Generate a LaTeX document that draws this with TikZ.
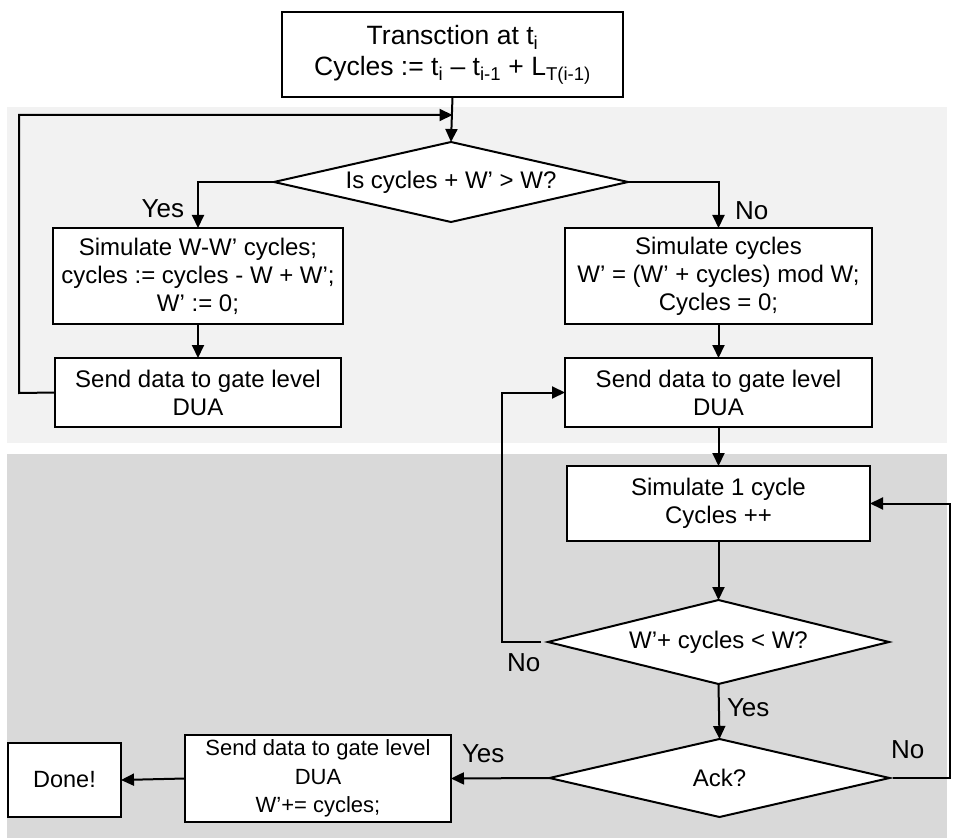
\documentclass[tikz,border=0pt]{standalone}
\usepackage{fontspec}
\setmainfont{Liberation Sans}
\usetikzlibrary{arrows.meta,shapes.geometric}
\definecolor{bglight}{HTML}{F2F2F2}
\definecolor{bgdark}{HTML}{D9D9D9}
\tikzset{
  x=1pt, y=-1pt,
  every node/.style={inner sep=0pt, outer sep=0pt},
  boxtext/.style={font=\fontsize{24}{28}\selectfont, align=center},
  procbox/.style={draw, line width=2pt, fill=white, boxtext},
  decision/.style={draw, line width=2pt, fill=white, diamond, shape aspect=4.4, boxtext},
  arr/.style={line width=2pt, -{Triangle[length=13pt,width=12pt]}},
  lbl/.style={font=\fontsize{26}{30}\selectfont}
}
\begin{document}
\begin{tikzpicture}
\useasboundingbox (0,0) rectangle (954,840);

% shaded phases
\fill[bglight] (7,107) rectangle (947,443);
\fill[bgdark] (7,454) rectangle (947,838);

% nodes
\node[procbox, font=\fontsize{26.5}{31}\selectfont, minimum width=341pt, minimum height=85pt] (top) at (452.5,54.5)
  {Transction at t\textsubscript{i}\\Cycles := t\textsubscript{i} – t\textsubscript{i-1} + L\textsubscript{T(i-1)}};
\node[decision, minimum width=354pt, minimum height=80pt] (d1) at (451,182) {Is cycles + W’ > W?};
\node[procbox, minimum width=290pt, minimum height=96pt] (b1) at (198,276)
  {Simulate W-W’ cycles;\\cycles := cycles - W + W’;\\W’ := 0;};
\node[procbox, minimum width=286pt, minimum height=69pt] (b3) at (198,392.5)
  {Send data to gate level\\DUA};
\node[procbox, minimum width=307pt, minimum height=96pt] (b2) at (718.5,276)
  {Simulate cycles\\W’ = (W’ + cycles) mod W;\\Cycles = 0;};
\node[procbox, minimum width=307pt, minimum height=69pt] (b4) at (718.5,392.5)
  {Send data to gate level\\DUA};
\node[procbox, minimum width=303pt, minimum height=75pt] (b5) at (718.5,503.5)
  {Simulate 1 cycle\\Cycles ++};
\node[decision, shape aspect=4, minimum width=341pt, minimum height=84pt] (d2) at (718.5,642) {W’+ cycles < W?};
\node[decision, shape aspect=4.3, minimum width=340pt, minimum height=78pt] (d3) at (719.5,778) {Ack?};
\node[procbox, font=\fontsize{22}{28.5}\selectfont, minimum width=266pt, minimum height=87pt] (b6) at (318,778.5)
  {Send data to gate level\\DUA\\W’+= cycles;};
\node[procbox, font=\fontsize{23.5}{28}\selectfont, minimum width=113pt, minimum height=74pt] (done) at (64.5,780) {Done!};

% bend points of the loops
\coordinate (merge) at (452.5,115);
\coordinate (lloop) at (19,393);
\coordinate (mloop) at (502,642);
\coordinate (rloop) at (950,778);

% connectors
\draw[arr] (top.south) -- (d1.north);
\draw[arr] (d1.west) -| (b1.north);
\draw[arr] (d1.east) -| (b2.north);
\draw[arr] (b1.south) -- (b3.north);
\draw[arr] (b2.south) -- (b4.north);
\draw[arr] (b3.west) -- (lloop) |- (merge);
\draw[arr] (b4.south) -- (b5.north);
\draw[arr] (b5.south) -- (d2.north);
\draw[arr, shorten <=7pt] (d2.west) -- (mloop) |- (b4.west);
\draw[arr] (d2.south) -- (d3.north);
\draw[arr, shorten <=3pt] (d3.east) -- (rloop) |- (b5.east);
\draw[arr] (d3.west) -- (b6.east);
\draw[arr] (b6.west) -- (done.east);

% branch labels
\node[lbl, anchor=east] (ly1) at (184,209) {Yes};
\node[lbl, anchor=west] (ln1) at (735,211) {No};
\node[lbl, anchor=west] (ln2) at (507,663) {No};
\node[lbl, anchor=west] (ly2) at (727,708) {Yes};
\node[lbl, anchor=west] (ln3) at (891,750) {No};
\node[lbl, anchor=west] (ly3) at (462,754) {Yes};
\end{tikzpicture}
\end{document}
